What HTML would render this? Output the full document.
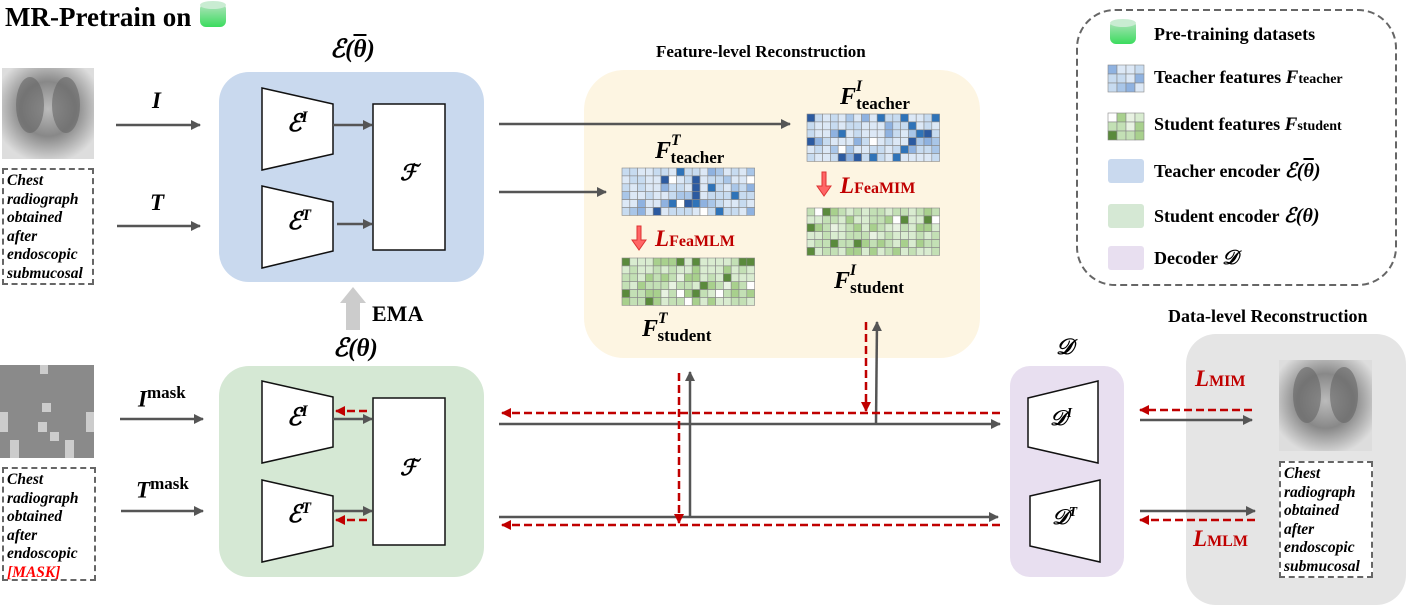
<!DOCTYPE html>
<html><head><meta charset="utf-8"><style>
body{margin:0;width:1406px;height:605px;background:#fff;position:relative;overflow:hidden;font-family:"Liberation Serif",serif}
.a{position:absolute}
.b{font-weight:bold}
.m{font-family:"Liberation Serif","DejaVu Serif",serif;font-style:italic;font-weight:bold}
.tb{position:absolute;border:2px dashed #666;box-sizing:border-box;font-style:italic;font-weight:bold;font-size:15.5px;line-height:18.5px;padding:2px 3px;background:#fff;word-spacing:30px}
sub,sup{font-size:65%}
.red{color:#c00000}
</style></head><body>
<svg class="a" style="left:0;top:0" width="1406" height="605">
<defs>
<marker id="g" markerWidth="10" markerHeight="10" refX="9" refY="5" orient="auto" markerUnits="userSpaceOnUse"><path d="M0,0 L10,5 L0,10z" fill="#555"/></marker>
<marker id="r" markerWidth="10" markerHeight="10" refX="9" refY="5" orient="auto" markerUnits="userSpaceOnUse"><path d="M0,0 L10,5 L0,10z" fill="#c00000"/></marker>
<radialGradient id="xr" cx="50%" cy="45%" r="60%"><stop offset="0" stop-color="#bbb"/><stop offset="0.5" stop-color="#888"/><stop offset="1" stop-color="#ddd"/></radialGradient>
<linearGradient id="cyl" x1="0" y1="0" x2="0" y2="1"><stop offset="0" stop-color="#b5e3c0"/><stop offset="1" stop-color="#3bdc5e"/></linearGradient>
</defs>
<rect x="219" y="72" width="265" height="210" rx="30" fill="#c9d9ee"/>
<rect x="219" y="366" width="265" height="211" rx="30" fill="#d5e8d4"/>
<rect x="584" y="70" width="396" height="288" rx="40" fill="#fdf5e2"/>
<rect x="1010" y="366" width="114" height="211" rx="20" fill="#e8dff0"/>
<rect x="1186" y="334" width="220" height="271" rx="30" fill="#e5e5e5"/>
<rect x="1077" y="10" width="319" height="275" rx="38" fill="none" stroke="#666" stroke-width="2" stroke-dasharray="7,4"/>
<rect x="200" y="3" width="26" height="24" rx="6" fill="url(#cyl)"/>
<ellipse cx="213" cy="5" rx="13" ry="4" fill="#c9ecd2"/>
<rect x="1110" y="20" width="26" height="24" rx="6" fill="url(#cyl)"/>
<ellipse cx="1123" cy="23" rx="13" ry="4" fill="#c9ecd2"/>
<rect x="1108" y="159" width="36" height="24" rx="3" fill="#c9d9ee"/>
<rect x="1108" y="204" width="36" height="24" rx="3" fill="#d5e8d4"/>
<rect x="1108" y="246" width="36" height="24" rx="3" fill="#e8dff0"/>
<g id="legT"></g><g id="legS"></g>
<rect x="2" y="68" width="92" height="91" fill="url(#xr)"/>
<ellipse cx="30" cy="105" rx="14" ry="28" fill="#666" opacity=".6"/><ellipse cx="66" cy="105" rx="14" ry="28" fill="#666" opacity=".6"/>
<rect x="0" y="365" width="94" height="93" fill="#8a8a8a"/>
<g fill="#ccc"><rect x="38" y="422" width="9" height="10"/><rect x="50" y="432" width="9" height="9"/><rect x="10" y="440" width="9" height="18"/><rect x="65" y="440" width="9" height="18"/><rect x="42" y="403" width="9" height="9"/><rect x="86" y="412" width="8" height="20"/><rect x="0" y="412" width="8" height="20"/><rect x="40" y="365" width="8" height="9"/></g>
<rect x="1279" y="360" width="93" height="91" fill="url(#xr)"/>
<ellipse cx="1307" cy="395" rx="14" ry="28" fill="#666" opacity=".6"/><ellipse cx="1344" cy="395" rx="14" ry="28" fill="#666" opacity=".6"/>
<g fill="#fff" stroke="#111" stroke-width="1.5">
<path d="M262,88 L333,104 L333,154 L262,170z"/><path d="M262,186 L333,202 L333,251 L262,268z"/>
<rect x="373" y="104" width="72" height="146"/>
<path d="M262,381 L333,397 L333,447 L262,463z"/><path d="M262,480 L333,496 L333,546 L262,562z"/>
<rect x="373" y="398" width="72" height="147"/>
<path d="M1028,398 L1098,381 L1098,463 L1028,447z"/><path d="M1030,496 L1100,480 L1100,562 L1030,546z"/>
</g>
<g stroke="#555" stroke-width="2.5" fill="none" marker-end="url(#g)">
<line x1="116" y1="125" x2="200" y2="125"/><line x1="117" y1="226" x2="200" y2="226"/>
<line x1="333" y1="125" x2="372" y2="125"/><line x1="337" y1="224" x2="372" y2="224"/>
<line x1="499" y1="124" x2="790" y2="124"/><line x1="499" y1="192" x2="606" y2="192"/>
<line x1="120" y1="419" x2="203" y2="419"/><line x1="121" y1="511" x2="203" y2="511"/>
<line x1="333" y1="419" x2="372" y2="419"/><line x1="333" y1="511" x2="372" y2="511"/>
<line x1="499" y1="424" x2="1000" y2="424"/><line x1="499" y1="517" x2="998" y2="517"/>
<line x1="690" y1="517" x2="690" y2="372"/><line x1="876" y1="424" x2="877" y2="322"/>
<line x1="1140" y1="420" x2="1252" y2="420"/><line x1="1140" y1="511" x2="1255" y2="511"/>
</g>
<g stroke="#c00000" stroke-width="2.5" fill="none" stroke-dasharray="8,4" marker-end="url(#r)">
<line x1="367" y1="411" x2="336" y2="411"/><line x1="367" y1="520" x2="336" y2="520"/>
<line x1="1000" y1="413" x2="502" y2="413"/><line x1="1000" y1="525" x2="502" y2="525"/>
<line x1="679" y1="373" x2="679" y2="523"/><line x1="866" y1="322" x2="866" y2="411"/>
<line x1="1252" y1="410" x2="1140" y2="410"/><line x1="1255" y1="520" x2="1140" y2="520"/>
</g>
<path d="M346,330 L346,303 L340,303 L353,287 L366,303 L360,303 L360,330z" fill="#ccc"/>
<path d="M637,226 L641,226 L641,240 L646,240 L639,250 L632,240 L637,240z" fill="#f66" stroke="#d33"/>
<path d="M822,172 L826,172 L826,186 L831,186 L824,196 L817,186 L822,186z" fill="#f66" stroke="#d33"/>
<g id="grids"></g>
</svg>

<div class="a b" style="left:5px;top:2px;font-size:27px">MR-Pretrain on</div>
<div class="a m" style="left:330px;top:34px;font-size:25px">ℰ(<span style="text-decoration:overline">θ</span>)</div>
<div class="a m" style="left:333px;top:333px;font-size:25px">ℰ(θ)</div>
<div class="a b" style="left:372px;top:301px;font-size:22px">EMA</div>
<div class="a m" style="left:152px;top:88px;font-size:23px">I</div>
<div class="a m" style="left:150px;top:190px;font-size:23px">T</div>
<div class="a m" style="left:138px;top:383px;font-size:23px">I<sup style="font-style:normal;font-size:17px">mask</sup></div>
<div class="a m" style="left:136px;top:474px;font-size:23px">T<sup style="font-style:normal;font-size:17px">mask</sup></div>
<div class="a m" style="left:287px;top:109px;font-size:24px">ℰ<sup>I</sup></div>
<div class="a m" style="left:287px;top:207px;font-size:24px">ℰ<sup>T</sup></div>
<div class="a m" style="left:287px;top:403px;font-size:24px">ℰ<sup>I</sup></div>
<div class="a m" style="left:287px;top:500px;font-size:24px">ℰ<sup>T</sup></div>
<div class="a m" style="left:400px;top:160px;font-size:22px">ℱ</div>
<div class="a m" style="left:400px;top:455px;font-size:22px">ℱ</div>
<div class="a m" style="left:1056px;top:334px;font-size:22px">𝒟</div>
<div class="a m" style="left:1050px;top:405px;font-size:21px">𝒟<sup>I</sup></div>
<div class="a m" style="left:1052px;top:504px;font-size:21px">𝒟<sup>T</sup></div>

<div class="a b" style="left:656px;top:42px;font-size:17px">Feature-level Reconstruction</div>
<div class="a b" style="left:1168px;top:306px;font-size:18px">Data-level Reconstruction</div>

<div class="a m" style="left:655px;top:136px;font-size:24px">F<sup style="position:relative;top:-4px">T</sup><span style="font-style:normal;font-size:17px;margin-left:-10px;position:relative;top:5px">teacher</span></div>
<div class="a m" style="left:840px;top:82px;font-size:24px">F<sup style="position:relative;top:-4px">I</sup><span style="font-style:normal;font-size:17px;margin-left:-6px;position:relative;top:5px">teacher</span></div>
<div class="a m" style="left:642px;top:314px;font-size:24px">F<sup style="position:relative;top:-4px">T</sup><span style="font-style:normal;font-size:17px;margin-left:-10px;position:relative;top:5px">student</span></div>
<div class="a m" style="left:834px;top:266px;font-size:24px">F<sup style="position:relative;top:-4px">I</sup><span style="font-style:normal;font-size:17px;margin-left:-6px;position:relative;top:5px">student</span></div>
<div class="a m red" style="left:655px;top:226px;font-size:23px">L<span style="font-style:normal;font-size:16px">FeaMLM</span></div>
<div class="a m red" style="left:840px;top:173px;font-size:23px">L<span style="font-style:normal;font-size:16px">FeaMIM</span></div>
<div class="a m red" style="left:1195px;top:366px;font-size:23px">L<span style="font-style:normal;font-size:16px">MIM</span></div>
<div class="a m red" style="left:1193px;top:526px;font-size:23px">L<span style="font-style:normal;font-size:16px">MLM</span></div>

<div class="tb" style="left:2px;top:168px;width:92px;height:117px">Chest radiograph obtained after endoscopic submucosal</div>
<div class="tb" style="left:2px;top:467px;width:94px;height:114px">Chest radiograph obtained after endoscopic <span style="color:#f00">[MASK]</span></div>
<div class="tb" style="left:1279px;top:461px;width:94px;height:117px">Chest radiograph obtained after endoscopic submucosal</div>

<div class="a b" style="left:1154px;top:24px;font-size:18px">Pre-training datasets</div>
<div class="a b" style="left:1154px;top:67px;font-size:18px">Teacher features <span class="m" style="font-size:19px">F</span><span style="font-size:14px">teacher</span></div>
<div class="a b" style="left:1154px;top:114px;font-size:18px">Student features <span class="m" style="font-size:19px">F</span><span style="font-size:14px">student</span></div>
<div class="a b" style="left:1154px;top:158px;font-size:18px">Teacher encoder <span class="m" style="font-size:20px">ℰ(<span style="text-decoration:overline">θ</span>)</span></div>
<div class="a b" style="left:1154px;top:203px;font-size:18px">Student encoder <span class="m" style="font-size:20px">ℰ(θ)</span></div>
<div class="a b" style="left:1154px;top:247px;font-size:18px">Decoder <span class="m" style="font-size:20px">𝒟</span></div>

<script>
var NS="http://www.w3.org/2000/svg";
var blue=["#dce8f6","#c7dbf0","#a9c6e8","#8fb2e0","#2f73b8","#2c5aa0","#fff"];
var green=["#d9ecd0","#c3e0b5","#a8d08d","#5a8a3c","#e8f2e2","#fff"];
var s=7;function rnd(){s=(s*9301+49297)%233280;return s/233280;}
function grid(g,x,y,cols,rows,w,h,pal,wts){
 for(var r=0;r<rows;r++)for(var c=0;c<cols;c++){
  var u=rnd(),acc=0,k=0;for(k=0;k<wts.length;k++){acc+=wts[k];if(u<acc)break;}
  var e=document.createElementNS(NS,"rect");
  e.setAttribute("x",x+c*w);e.setAttribute("y",y+r*h);e.setAttribute("width",w);e.setAttribute("height",h);
  e.setAttribute("fill",pal[Math.min(k,pal.length-1)]);e.setAttribute("stroke","#888");e.setAttribute("stroke-width","0.6");g.appendChild(e);}
}
var G=document.getElementById("grids");
var bw=[.35,.25,.12,.1,.1,.04,.04],gw=[.3,.3,.2,.1,.05,.05];
grid(G,622,168,17,6,7.8,7.9,blue,bw);
grid(G,622,258,17,6,7.8,7.9,green,gw);
grid(G,807,114,17,6,7.8,7.9,blue,bw);
grid(G,807,208,17,6,7.8,7.9,green,gw);
grid(document.getElementById("legT"),1108,65,4,3,9,9,blue,bw);
grid(document.getElementById("legS"),1108,113,4,3,9,9,green,gw);
</script>
</body></html>
